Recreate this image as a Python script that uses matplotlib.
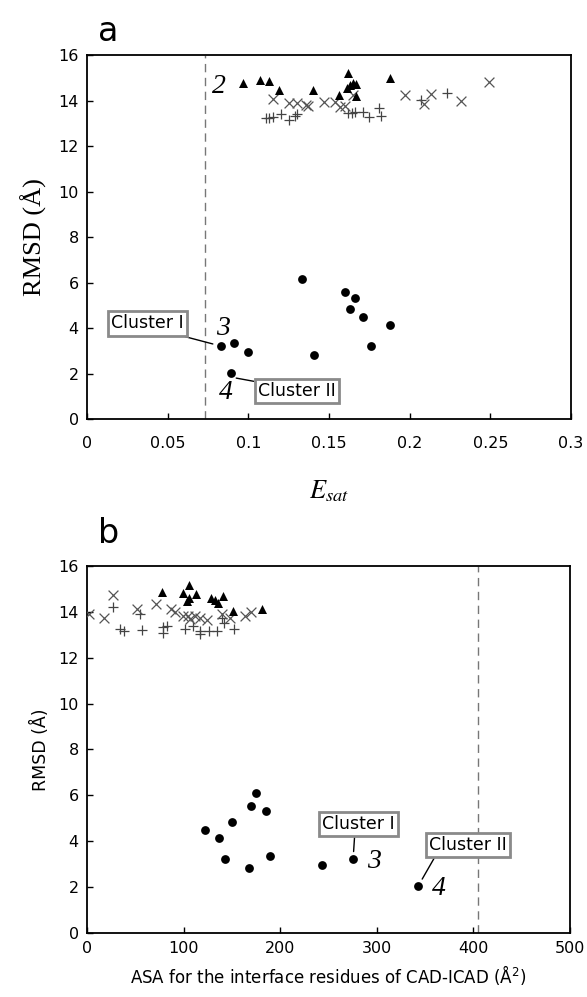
import matplotlib
matplotlib.use("Agg")
import matplotlib.pyplot as plt

# ---- panel a : E_sat vs RMSD ----
a_circ_x = [0.083, 0.091, 0.100, 0.089, 0.133, 0.141, 0.160, 0.166, 0.163, 0.171, 0.176, 0.188]
a_circ_y = [3.20, 3.34, 2.94, 2.02, 6.15, 2.81, 5.58, 5.32, 4.83, 4.48, 3.21, 4.13]
a_tri_x = [0.097, 0.107, 0.113, 0.119, 0.140, 0.156, 0.162, 0.161, 0.163, 0.165, 0.167, 0.167, 0.188]
a_tri_y = [14.77, 14.90, 14.86, 14.46, 14.46, 14.24, 15.20, 14.55, 14.68, 14.77, 14.72, 14.20, 15.00]
a_x_x = [0.115, 0.125, 0.130, 0.136, 0.137, 0.147, 0.154, 0.157, 0.160, 0.165, 0.197, 0.209, 0.213, 0.232, 0.249]
a_x_y = [14.07, 13.90, 13.90, 13.80, 13.75, 13.93, 13.93, 13.70, 13.75, 14.24, 14.24, 13.85, 14.28, 13.98, 14.80]
a_p_x = [0.111, 0.113, 0.115, 0.120, 0.125, 0.129, 0.130, 0.162, 0.164, 0.166, 0.171, 0.175, 0.181, 0.182, 0.207, 0.223]
a_p_y = [13.22, 13.22, 13.27, 13.40, 13.14, 13.30, 13.40, 13.45, 13.45, 13.50, 13.50, 13.27, 13.67, 13.30, 14.02, 14.33]
a_cut = 0.073
a_xticks = [0, 0.05, 0.1, 0.15, 0.2, 0.25, 0.3]
a_xticklabels = ["0", "0.05", "0.1", "0.15", "0.2", "0.25", "0.3"]

# ---- panel b : ASA vs RMSD ----
b_circ_x = [122, 137, 143, 150, 168, 170, 175, 185, 189, 243, 275, 343]
b_circ_y = [4.50, 4.15, 3.22, 4.85, 2.85, 5.55, 6.10, 5.30, 3.35, 2.98, 3.22, 2.04]
b_tri_x = [78, 99, 106, 113, 104, 128, 136, 141, 133, 151, 181, 106]
b_tri_y = [14.87, 14.83, 15.17, 14.78, 14.48, 14.60, 14.40, 14.70, 14.50, 14.05, 14.13, 14.60]
b_x_x = [2, 18, 27, 52, 71, 87, 91, 99, 105, 107, 112, 117, 124, 140, 148, 164, 170]
b_x_y = [13.90, 13.74, 14.74, 14.13, 14.35, 14.13, 14.00, 13.80, 13.80, 13.70, 13.80, 13.74, 13.65, 13.90, 13.74, 13.80, 14.00]
b_p_x = [27, 34, 38, 55, 57, 79, 79, 83, 101, 110, 117, 117, 126, 135, 140, 142, 152]
b_p_y = [14.20, 13.26, 13.17, 13.90, 13.20, 13.35, 13.10, 13.40, 13.26, 13.40, 13.17, 13.04, 13.17, 13.17, 13.74, 13.50, 13.26]
b_cut = 405
b_xticks = [0, 100, 200, 300, 400, 500]

yticks = [0, 2, 4, 6, 8, 10, 12, 14, 16]

fig = plt.figure(figsize=(5.87, 9.97), dpi=100)
ax_a = fig.add_axes([0.1482, 0.5797, 0.8245, 0.3651])
ax_b = fig.add_axes([0.1482, 0.0642, 0.8228, 0.3681])

box = dict(boxstyle="square,pad=0.18", fc="white", ec="#8a8a8a", lw=2)
serif = ["Liberation Serif", "DejaVu Serif"]


def draw_points(ax, cx, cy, tx, ty, xx, xy, px, py):
    ax.scatter(px, py, marker="+", s=55, c="#444444", lw=0.9, zorder=3)
    ax.scatter(xx, xy, marker="x", s=50, c="#555555", lw=0.9, zorder=3)
    ax.scatter(tx, ty, marker="^", s=42, c="black", lw=0, zorder=4)
    ax.scatter(cx, cy, marker="o", s=40, c="black", lw=0, zorder=4)


def cluster_label(ax, label, point, place, rel):
    ax.annotate(label, xy=point, xytext=place, fontsize=12.5,
                ha="center", va="center", bbox=box,
                arrowprops=dict(arrowstyle="-", lw=1, color="black",
                                shrinkA=0, shrinkB=0, relpos=rel))


for ax in (ax_a, ax_b):
    ax.set_ylim(0, 16)
    ax.set_yticks(yticks)
    ax.tick_params(direction="in", length=4, width=1, labelsize=11.5, pad=6)
    for sp in ax.spines.values():
        sp.set_linewidth(1.3)

# panel a
draw_points(ax_a, a_circ_x, a_circ_y, a_tri_x, a_tri_y, a_x_x, a_x_y, a_p_x, a_p_y)
ax_a.axvline(a_cut, color="#777777", lw=1, ls=(0, (6, 4)), zorder=1)
ax_a.set_xlim(0, 0.3)
ax_a.set_xticks(a_xticks)
ax_a.set_xticklabels(a_xticklabels)
ax_a.tick_params(axis="x", pad=12)
ax_a.set_ylabel("RMSD (Å)", family=serif, fontsize=19, labelpad=8)
ax_a.set_xlabel(r"$\mathit{E}_{\mathit{sat}}$", fontsize=19, labelpad=20, math_fontfamily="stix")
ax_a.text(0.086, 14.6, "2", family=serif, style="italic", fontsize=20, ha="right", va="center")
ax_a.text(0.080, 4.0, "3", family=serif, style="italic", fontsize=20, ha="left", va="center")
ax_a.text(0.082, 1.15, "4", family=serif, style="italic", fontsize=20, ha="left", va="center")
cluster_label(ax_a, "Cluster I", (0.078, 3.3), (0.0375, 4.2), (0.8, 0.0))
cluster_label(ax_a, "Cluster II", (0.0925, 1.8), (0.13, 1.23), (0.0, 1.0))
fig.text(0.185, 0.968, "a", fontsize=24, ha="center", va="center")

# panel b
draw_points(ax_b, b_circ_x, b_circ_y, b_tri_x, b_tri_y, b_x_x, b_x_y, b_p_x, b_p_y)
ax_b.axvline(b_cut, color="#777777", lw=1, ls=(0, (6, 4)), zorder=1)
ax_b.set_xlim(0, 500)
ax_b.set_xticks(b_xticks)
ax_b.set_ylabel("RMSD (Å)", fontsize=12.5, labelpad=6)
ax_b.set_xlabel(r"ASA for the interface residues of CAD-ICAD (Å$^2$)", fontsize=12, labelpad=5)
ax_b.text(290, 3.1, "3", family=serif, style="italic", fontsize=20, ha="left", va="center")
ax_b.text(357, 1.95, "4", family=serif, style="italic", fontsize=20, ha="left", va="center")
cluster_label(ax_b, "Cluster I", (276, 3.55), (281, 4.74), (0.45, 0.0))
cluster_label(ax_b, "Cluster II", (347, 2.35), (394, 3.83), (0.1, 0.0))
fig.text(0.185, 0.465, "b", fontsize=24, ha="center", va="center")

fig.savefig("out.png", dpi=100)
